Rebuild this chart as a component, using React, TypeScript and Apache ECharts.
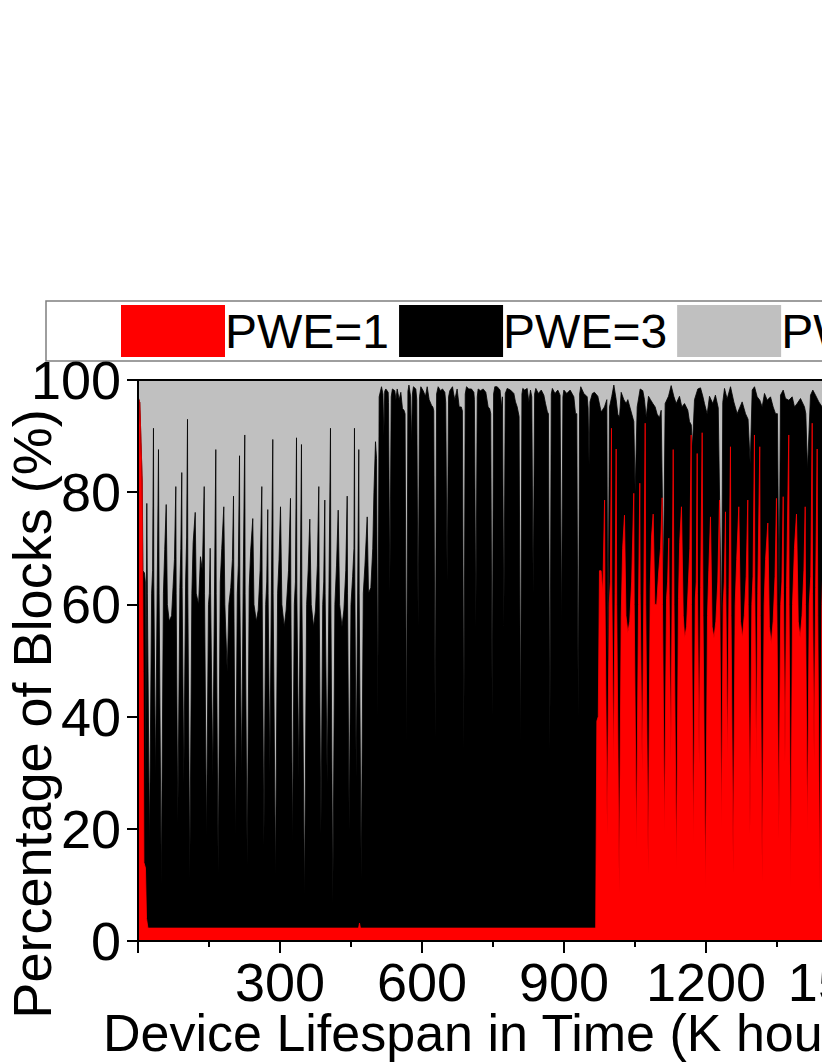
import React, { useEffect, useRef } from "react";
import * as echarts from "echarts";

// Legend / series names
const SERIES_NAMES = ["PWE=1", "PWE=3", "PWE=5"];
const SERIES_COLORS = ["#ff0000", "#000000", "#c0c0c0"];

// Axis settings (K hours, %)
const X_MAX = 1550;
const X_TICK_STEP = 300;
const Y_TICK_STEP = 20;
const X_TITLE = "Device Lifespan in Time (K hours)";
const Y_TITLE = "Percentage of Blocks (%)";

// Share of PWE=1 blocks (%), [K hours, %]
const PWE1_SHARE: [number, number][] = [
  [0, 97], [3.8, 96], [8.9, 82], [11, 48], [12.5, 14], [15.8, 13], [18, 4], [21, 2.3],
  [466, 2.3], [468, 3.2], [470, 2.3],
  [967, 2.3], [969.5, 39.2], [972.5, 40], [975, 66], [978.5, 66], [982, 62], [985.8, 78.6], [986.6, 62], [991.3, 19],
  [995.6, 60], [998, 64], [1000.4, 91.4], [1001, 64], [1004.8, 31], [1008, 62], [1010.3, 87.7], [1011.5, 60],
  [1016.7, 8.5], [1021, 58], [1024, 70], [1027.9, 75.9], [1031, 58], [1035, 55], [1039, 57], [1043, 64], [1047.5, 79.8],
  [1048.4, 60], [1053.2, 16], [1057.5, 60], [1060.2, 81.6], [1061, 62], [1065.3, 30], [1069, 64], [1071.6, 92.3],
  [1072.8, 60], [1078, 12], [1082.3, 63], [1085, 72], [1088.5, 76.1], [1092, 60], [1096, 60], [1100, 65.6], [1104, 70],
  [1107.5, 79], [1108.2, 60], [1112.4, 18.5], [1116.7, 61], [1119, 64], [1121.5, 71.8], [1122.2, 62], [1125.8, 32],
  [1128.8, 64], [1130.8, 87.6], [1132.5, 60], [1137.7, 12.5], [1142, 61], [1144.5, 71], [1148.3, 77.4], [1152, 58],
  [1155, 54], [1159, 56], [1163, 64], [1166, 70], [1168.8, 90.2], [1169.5, 60], [1173.5, 17], [1177.5, 61], [1179.5, 64],
  [1181.5, 86.9], [1182.2, 62], [1185.5, 31.5], [1188.8, 63], [1192, 90.6], [1193.8, 58], [1199, 9], [1203.3, 58],
  [1206, 66], [1209.6, 75.6], [1213, 56], [1217, 54], [1221, 57], [1225, 64], [1228.6, 78.6], [1229.2, 62],
  [1232.8, 19.5], [1236.5, 60], [1238.8, 64], [1241.3, 76.5], [1242, 62], [1245.5, 32], [1248.8, 63], [1251.8, 88.1],
  [1253, 58], [1257.5, 12], [1261.8, 60], [1265, 68], [1269.4, 77.4], [1273, 57], [1277, 54], [1281, 58], [1285, 65],
  [1288.4, 78.6], [1289.2, 60], [1293, 19], [1297, 60], [1299.5, 65], [1302.5, 90.2], [1303.2, 63], [1306.3, 32],
  [1309.5, 62], [1313.7, 88.1], [1314.8, 58], [1318.8, 10.5], [1323, 60], [1326, 68], [1330.7, 74.5], [1334, 56],
  [1338, 53], [1342, 57], [1346, 65], [1349, 78.9], [1349.8, 60], [1354, 18], [1358, 60], [1360.5, 64], [1363.2, 79.2],
  [1363.8, 62], [1367, 32], [1370.3, 63], [1375, 90.2], [1375.6, 60], [1379, 9.5], [1383, 60], [1387, 70],
  [1391.3, 76.1], [1395, 57], [1399, 54], [1403, 58], [1407, 66], [1409.7, 77.4], [1410.4, 60], [1414.3, 19],
  [1418.3, 60], [1421.5, 65], [1424.5, 92.3], [1425.2, 62], [1428.5, 32], [1431.8, 63], [1435, 87.7], [1436.3, 58],
  [1440.5, 8.5], [1444.8, 60], [1447.5, 68], [1450, 76], [1454, 57], [1458, 54], [1462, 58], [1466, 65], [1470, 79],
  [1470.8, 60], [1474.5, 19], [1478.3, 60], [1480, 70],
];

// Cumulative share of PWE=1 + PWE=3 blocks (%), [K hours, %]
const PWE1_3_SHARE: [number, number][] = [
  [0, 97], [3.8, 96], [8.9, 82], [10.5, 66], [13.7, 65.6], [15.5, 64], [16.5, 25],
  [17.5, 58], [18.6, 78], [19.8, 62], [24.3, 17], [28.8, 62], [30.8, 66], [32.7, 91.4], [33.4, 64], [37, 29],
  [40.6, 63], [43.3, 87.6], [44.6, 62], [49.2, 10], [53.7, 62], [56.5, 69.8], [59.6, 77.8], [62, 60], [66, 57], [71, 58],
  [74, 63], [77, 68], [79.9, 81],
  [80.6, 62], [84.1, 21], [88.5, 63], [90.5, 70], [92.5, 83.5], [93.2, 63], [96.8, 28], [100.6, 64], [102.8, 72],
  [104.6, 93], [105.3, 62], [109.4, 11], [113.8, 62], [116.5, 71], [120.9, 76.4], [123, 62], [128, 60], [132, 68.5],
  [136, 66], [139.9, 81],
  [140.6, 62], [144.7, 18], [148.9, 60], [150.8, 62], [152.5, 70], [153.4, 62], [158, 29], [161.8, 64], [164.4, 87.6],
  [165.2, 62], [169.4, 12], [173.8, 64], [177, 70], [181.3, 77.4], [183.5, 60], [188.5, 48], [192, 60], [196, 63],
  [199.5, 68], [201.8, 79.3],
  [202.5, 62], [206, 18], [209.8, 62], [212, 67], [214.5, 86.5], [215.2, 62], [218.8, 29], [222.3, 64], [225.6, 90.2],
  [226.3, 62], [230.7, 13.5], [235, 63], [238, 69.5], [242.5, 75.3], [245, 60], [250, 57], [254, 59], [258, 66],
  [261.6, 81],
  [262.3, 62], [266, 17], [269.8, 60], [272, 64], [274.2, 76.9], [274.9, 62], [278.5, 30], [282, 64], [284.8, 89.4],
  [285.5, 62], [290.5, 11], [295, 62], [298, 68], [301.1, 77.4], [304, 60], [309, 56], [313, 59], [318, 66],
  [322.2, 78.9],
  [322.9, 62], [326.5, 17], [330.3, 60], [332.6, 64], [334.9, 89.7], [335.6, 62], [339.7, 29], [343, 64], [345.4, 88.5],
  [346.2, 62], [351.8, 7.5], [356.3, 60], [359.5, 66], [363, 75.2], [366, 60], [371, 56], [375, 59], [379, 67], [382, 81],
  [382.7, 62], [386.5, 19], [390.3, 60], [392.4, 64], [394.7, 78.6], [395.4, 62], [399.7, 28], [403.6, 64], [406.7, 91.4],
  [407.4, 62], [411.6, 6.5], [416, 60], [419.5, 67], [423, 76.8], [426, 60], [431, 56], [435, 59], [439, 66], [442, 79.3],
  [442.7, 62], [446.2, 19.5], [450, 60], [453.5, 65], [456.3, 70], [457.4, 91.4], [458.1, 64], [461, 29], [464.3, 64],
  [466.5, 87.6], [467.3, 62], [471.6, 11], [476, 62], [479.5, 67], [484.3, 75.6], [487, 62], [492, 63], [496, 70],
  [498.5, 80], [501.8, 89], [504, 86], [506.6, 40],
  [509.5, 97], [514.5, 98.8], [517.5, 97.5], [519.4, 90], [521.3, 98], [523.6, 98.4], [528.6, 97.8], [529.3, 96],
  [532.1, 62], [535, 97], [537.5, 98.4], [542.6, 98.1], [545, 96.5], [547.6, 98.4], [551.8, 96.5], [555.3, 97.8],
  [558.8, 94.9], [562, 94.6], [564.3, 94], [567.3, 34], [570.3, 98], [572.5, 99.1], [576, 97], [577.9, 88.6],
  [579.8, 97.5], [582, 98.8], [587, 98.4], [589, 96.5], [591.9, 56], [594.8, 97], [597.6, 98.8], [602.5, 98.1],
  [607.4, 97.1], [611, 98.8], [615.2, 96.5], [620.1, 95.5], [623, 95.2], [624.9, 94.5], [627.9, 36], [630.9, 97.5],
  [634.2, 98.8], [639.1, 98.1], [643.4, 98.4], [648.3, 97.8], [650.2, 96], [653.2, 64], [656.2, 97], [658.8, 98.1],
  [664.5, 98.8], [667, 97.5], [669.4, 96.5], [674.3, 98.4], [678.6, 95.2], [683, 95.2], [685.4, 94.5], [688.4, 34],
  [691.4, 97.5], [694.1, 98.8], [699, 98.4], [704.6, 98.4], [709.6, 97.8], [710.8, 96.5], [713.8, 56], [716.8, 97],
  [718.7, 98.4], [723.6, 98.1], [729.3, 98.4], [734.9, 97.8], [739.8, 95.2], [743, 94.9], [745.3, 94], [748.3, 40],
  [751.3, 97.5], [753.9, 98.8], [758.9, 98.8], [765, 98.2], [768.5, 95], [770, 97], [773, 56], [776, 97.6], [780, 98.5],
  [787, 98.2], [794.1, 97.6], [797.6, 96.1], [801.2, 95.2], [805.2, 93.5], [808.2, 34], [811.2, 97.5], [813, 98.5],
  [817, 98.2], [822.3, 98.5], [825.8, 96.1], [829.3, 98.2], [832, 97], [835, 62], [838, 97.5], [840.5, 98.5], [846, 97.6],
  [852, 98.2], [857.5, 97.3], [861, 95.8], [865, 94.3], [867.2, 94], [870.2, 34], [873.2, 97.5], [875.5, 98.5],
  [881, 97.6], [887, 98.2], [891.8, 97.3], [894.8, 56], [897.8, 97], [899.8, 98.2], [906, 97.6], [913, 98.2], [920.9, 97],
  [924.4, 94], [927.1, 94], [930.1, 40], [933.1, 97.5], [935.5, 98.8], [942, 97.6], [949.1, 97], [951, 95], [953, 85],
  [955, 96.1], [960, 97.6], [964.5, 97.8],
  [971.5, 97.1], [978.6, 94.3], [985.6, 95.2], [990.6, 96.5], [992.7, 50], [996.2, 95.2], [1001.1, 97.1], [1005.4, 99.1],
  [1010.3, 96.5], [1013.8, 93.9], [1017.3, 93.3], [1020.9, 97.8], [1026.5, 96.5], [1031.4, 95.8], [1034.9, 96.5],
  [1039.2, 95.2], [1043.4, 93.9], [1047.6, 92.6], [1050.4, 80], [1054.7, 95.2], [1061, 98.4], [1066.6, 98.1],
  [1070.1, 96.5], [1073.7, 93.3], [1078.6, 97.1], [1082.8, 96.5], [1087.8, 95.8], [1092.7, 95.2], [1096.9, 93.9],
  [1101.8, 93.3], [1105.4, 94.6], [1110.3, 65], [1113.8, 95.8], [1120.9, 97.1], [1126.5, 99], [1132.1, 97.1],
  [1137.1, 95.8], [1144.1, 97.1], [1149, 95.2], [1154.7, 95.8], [1161.7, 94.6], [1165.2, 92.6], [1169, 92], [1171.5, 88],
  [1175.8, 96.5], [1182.8, 98.4], [1188.5, 98.6], [1193.4, 97.1], [1196.9, 95.8], [1202.6, 93.9], [1207.5, 97.1],
  [1214.5, 95.8], [1220, 97.3], [1226, 95], [1233, 55], [1235.5, 96], [1239.2, 98.5], [1244.8, 96.6], [1251.9, 98.8],
  [1258.9, 96.1], [1266, 94], [1276.5, 96.1], [1283.6, 94], [1289, 93], [1293.5, 85], [1297.7, 98.2], [1302.6, 98.8],
  [1308.2, 97], [1313.8, 96.4], [1318.8, 95.2], [1323.7, 97.6], [1329.4, 96.4], [1336.4, 97], [1342, 95.2], [1347, 94],
  [1351, 94], [1354.5, 60], [1357.5, 97.3], [1363.2, 98.2], [1368.1, 96.7], [1375.1, 96.4], [1382.2, 97], [1387.1, 95.2],
  [1392.7, 95.8], [1399.8, 96.7], [1408.2, 95.2], [1411, 94], [1414.5, 84], [1420.9, 97.3], [1425.8, 98.2],
  [1431.5, 97.3], [1438.5, 96.1], [1445.6, 95.2], [1452, 97], [1460, 96], [1470, 95], [1474.5, 60], [1480, 97],
];

// Cumulative share of all blocks (PWE=1 + PWE=3 + PWE=5)
const ALL_SHARE: [number, number][] = [[0, 100], [1480, 100]];

const FONT = '"Liberation Sans", Arial, Helvetica, sans-serif';

export default function App() {
  const ref = useRef<HTMLDivElement>(null);

  useEffect(() => {
    if (!ref.current) return;
    const chart = echarts.init(ref.current, null, { renderer: "svg" });
    chart.setOption({
      animation: false,
      textStyle: { fontFamily: FONT, color: "#000" },
      grid: { left: 138, top: 380, width: 733.6, height: 561, containLabel: false },
      legend: {
        left: 121,
        top: 305,
        padding: 0,
        itemWidth: 104,
        itemHeight: 52,
        itemGap: 10,
        icon: "rect",
        selectedMode: false,
        itemStyle: { borderWidth: 0 },
        textStyle: { fontSize: 48, color: "#000", fontFamily: FONT, padding: [0, 0, 0, -5] },
        data: SERIES_NAMES.map((n, i) => ({ name: n, itemStyle: { color: SERIES_COLORS[i] } })),
      },
      xAxis: [
        {
          type: "value",
          min: 0,
          max: X_MAX,
          interval: X_TICK_STEP,
          z: 10,
          axisLine: { show: true, onZero: false, lineStyle: { color: "#000", width: 2 } },
          axisTick: { show: true, length: 12, lineStyle: { color: "#000", width: 2 } },
          minorTick: { show: true, splitNumber: 2, length: 6, lineStyle: { color: "#000", width: 2 } },
          splitLine: { show: false },
          minorSplitLine: { show: false },
          axisLabel: {
            fontSize: 54,
            lineHeight: 40,
            color: "#000",
            fontFamily: FONT,
            margin: 21,
            formatter: (v: number) => (v > 0 && v % X_TICK_STEP === 0 ? String(v) : ""),
          },
        },
        {
          type: "value",
          position: "top",
          min: 0,
          max: X_MAX,
          z: 10,
          axisLine: { show: true, onZero: false, lineStyle: { color: "#000", width: 2 } },
          axisTick: { show: false },
          axisLabel: { show: false },
          splitLine: { show: false },
        },
      ],
      yAxis: {
        type: "value",
        min: 0,
        max: 100,
        interval: Y_TICK_STEP,
        z: 10,
        axisLine: { show: true, onZero: false, lineStyle: { color: "#000", width: 2 } },
        axisTick: { show: true, length: 11, lineStyle: { color: "#000", width: 2 } },
        splitLine: { show: false },
        axisLabel: { fontSize: 54, color: "#000", fontFamily: FONT, margin: 17 },
      },
      graphic: [
        {
          type: "rect",
          z: -10,
          shape: { x: 46, y: 301, width: 1100, height: 60 },
          style: { fill: "#fff", stroke: "#7f7f7f", lineWidth: 1.5 },
        },
        {
          type: "text",
          x: 103,
          y: 1033,
          style: {
            text: X_TITLE,
            font: `52px ${FONT}`,
            lineHeight: 44,
            fill: "#000",
            align: "left",
            verticalAlign: "middle",
            textAlign: "left",
            textVerticalAlign: "middle",
          },
        },
        {
          type: "text",
          x: 32,
          y: 714,
          rotation: Math.PI / 2,
          style: {
            text: Y_TITLE,
            font: `54px ${FONT}`,
            fill: "#000",
            align: "center",
            verticalAlign: "middle",
            textAlign: "center",
            textVerticalAlign: "middle",
          },
        },
      ],
      series: [
        {
          name: SERIES_NAMES[2],
          type: "line",
          data: ALL_SHARE,
          color: SERIES_COLORS[2],
          symbol: "none",
          showSymbol: false,
          lineStyle: { width: 0, color: SERIES_COLORS[2] },
          areaStyle: { color: SERIES_COLORS[2], opacity: 1 },
          silent: true,
        },
        {
          name: SERIES_NAMES[1],
          type: "line",
          data: PWE1_3_SHARE,
          color: SERIES_COLORS[1],
          symbol: "none",
          showSymbol: false,
          lineStyle: { width: 0.8, color: SERIES_COLORS[1] },
          areaStyle: { color: SERIES_COLORS[1], opacity: 1 },
          silent: true,
        },
        {
          name: SERIES_NAMES[0],
          type: "line",
          data: PWE1_SHARE,
          color: SERIES_COLORS[0],
          symbol: "none",
          showSymbol: false,
          lineStyle: { width: 0.8, color: SERIES_COLORS[0] },
          areaStyle: { color: SERIES_COLORS[0], opacity: 1 },
          silent: true,
        },
      ],
    });
    return () => chart.dispose();
  }, []);

  return (
    <div
      style={{
        position: "absolute",
        left: 0,
        top: 0,
        width: 822,
        height: 1064,
        overflow: "hidden",
        background: "#fff",
      }}
    >
      <div ref={ref} style={{ width: 1100, height: 1064 }} />
    </div>
  );
}
